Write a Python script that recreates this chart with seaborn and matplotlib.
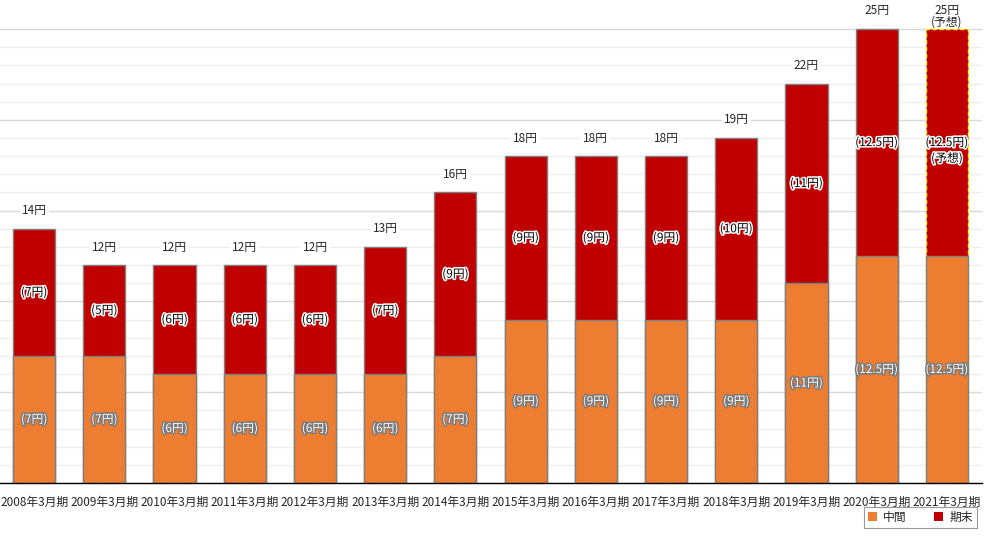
import numpy as np
import pandas as pd
import matplotlib
matplotlib.use('Agg')
import matplotlib.pyplot as plt
import matplotlib.patheffects as pe
from matplotlib.patches import Patch
import seaborn as sns

# data
periods = ["2008年3月期", "2009年3月期", "2010年3月期", "2011年3月期", "2012年3月期",
           "2013年3月期", "2014年3月期", "2015年3月期", "2016年3月期", "2017年3月期",
           "2018年3月期", "2019年3月期", "2020年3月期", "2021年3月期"]
interim = [7, 7, 6, 6, 6, 6, 7, 9, 9, 9, 9, 11, 12.5, 12.5]
year_end = [7, 5, 6, 6, 6, 7, 9, 9, 9, 9, 10, 11, 12.5, 12.5]
forecast = [False] * 13 + [True]

ORANGE = "#ED7D31"
RED = "#C00000"

df = pd.DataFrame({"period": periods, "interim": interim, "year_end": year_end})
df["total"] = df["interim"] + df["year_end"]

sns.set_style("white")
plt.rcParams['font.family'] = ['Noto Sans CJK JP', 'DejaVu Sans']

fig = plt.figure(figsize=(9.89, 5.36), dpi=100)
ax = fig.add_axes([-1 / 989, 53 / 536, 983 / 989, 483 / 536])

sns.barplot(data=df, x="period", y="total", color=RED, width=0.6,
            edgecolor="#7f7f7f", linewidth=1, saturation=1, ax=ax, zorder=2)
n = len(df)
for i, p in enumerate(ax.patches[:n]):
    if forecast[i]:
        p.set_edgecolor("#FFFF00")
        p.set_linestyle((0, (3, 2)))
sns.barplot(data=df, x="period", y="interim", color=ORANGE, width=0.6,
            edgecolor="#7f7f7f", linewidth=1, saturation=1, ax=ax, zorder=3)

ax.set_xlim(-0.5, n - 0.5)
ax.set_ylim(0, 26.6)
ax.set_yticks(np.arange(0, 26, 5))
ax.set_yticks(np.arange(0, 26, 1), minor=True)
ax.yaxis.set_ticklabels([])
ax.grid(axis='y', which='major', color="#d9d9d9", lw=1, zorder=0)
ax.grid(axis='y', which='minor', color="#eeeeee", lw=1, zorder=0)
ax.set_axisbelow(True)
ax.set_xlabel("")
ax.set_ylabel("")
ax.tick_params(axis='y', which='both', length=0)
ax.tick_params(axis='x', length=0, labelsize=8.5, pad=9)
for s in ["top", "right", "left"]:
    ax.spines[s].set_visible(False)
ax.spines["bottom"].set_color("black")
ax.spines["bottom"].set_linewidth(1)
ax.spines["bottom"].set_zorder(5)

def fmt(v):
    return f"{v:g}円"

for i, row in df.iterrows():
    # total on top
    ax.annotate(fmt(row["total"]), xy=(i, row["total"]), xytext=(0, 13),
                textcoords='offset points', ha='center', va='center', fontsize=8.5,
                bbox=dict(facecolor='white', edgecolor='none', pad=1.5), zorder=6)
    # year-end label
    ax.text(i, row["interim"] + row["year_end"] / 2, f"({fmt(row['year_end'])})",
            ha='center', va='center', fontsize=8.5, color='black', zorder=6,
            path_effects=[pe.withStroke(linewidth=2.2, foreground='white')])
    # interim label
    ax.text(i, row["interim"] / 2, f"({fmt(row['interim'])})",
            ha='center', va='center', fontsize=8.5, color='white', zorder=6,
            path_effects=[pe.withStroke(linewidth=2.2, foreground='#7a7a7a')])
    if forecast[i]:
        ax.annotate("(予想)", xy=(i, row["total"]), xytext=(0, 5),
                    textcoords='offset points', ha='center', va='center', fontsize=8.5, zorder=6)
        ax.annotate("(予想)", xy=(i, row["interim"] + row["year_end"] / 2), xytext=(0, -11.5),
                    textcoords='offset points', ha='center', va='center', fontsize=8.5,
                    color='black', zorder=6,
                    path_effects=[pe.withStroke(linewidth=2.2, foreground='white')])

handles = [Patch(facecolor=ORANGE, edgecolor='none', label="中間"),
           Patch(facecolor=RED, edgecolor='none', label="期末")]
leg = fig.legend(handles=handles, loc='lower right', bbox_to_anchor=(977 / 989, 8 / 536),
                 ncol=2, fontsize=8.5, frameon=True, fancybox=False, handlelength=0.8,
                 handleheight=0.8, handletextpad=0.5, columnspacing=2.3,
                 borderpad=0.35, borderaxespad=0)
leg._legend_box.sep = 0
leg.get_frame().set_edgecolor("#7f7f7f")
leg.get_frame().set_linewidth(0.8)

fig.savefig("out.png", dpi=100)
